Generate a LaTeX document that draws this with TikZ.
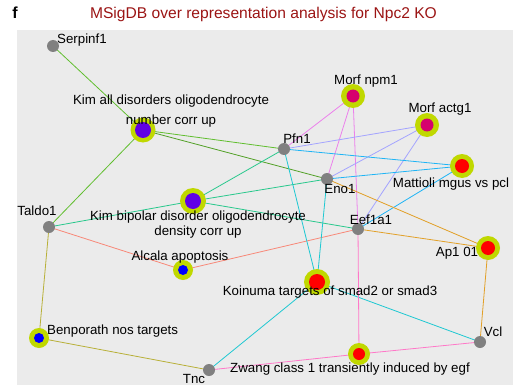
\documentclass[tikz,border=0pt]{standalone}
\usepackage{fontspec}
\setmainfont{Liberation Sans}
\begin{document}
\begin{tikzpicture}[x=1pt,y=-1pt,
  gene/.style={circle,fill={rgb,255:red,128;green,128;blue,128},inner sep=0pt,minimum size=12pt},
  ring/.style={circle,fill=ringc,inner sep=0pt,minimum size=#1},
  core/.style={circle,inner sep=0pt,minimum size=#1},
  lbl/.style={font=\fontsize{13.3}{15}\selectfont,inner sep=0pt,text=black},
  edge/.style={line width=0.8pt}]
\definecolor{ringc}{RGB}{192,216,0}
\definecolor{bgc}{RGB}{235,235,235}
\definecolor{purp}{RGB}{96,0,230}
\definecolor{mag}{RGB}{214,0,110}
\definecolor{cgreen}{RGB}{96,190,46}
\definecolor{cviolet}{RGB}{236,128,236}
\definecolor{clav}{RGB}{164,164,255}
\definecolor{csky}{RGB}{30,180,245}
\definecolor{cteal}{RGB}{40,200,140}
\definecolor{corange}{RGB}{226,160,40}
\definecolor{csalmon}{RGB}{248,136,120}
\definecolor{cturq}{RGB}{30,200,210}
\definecolor{colive}{RGB}{184,176,56}
\definecolor{cpink}{RGB}{255,120,200}
\definecolor{titlec}{RGB}{155,20,20}
\useasboundingbox (0,0) rectangle (513,385);
\fill[bgc] (17,30) rectangle (513,385);
\node[font=\bfseries\fontsize{16}{18}\selectfont,inner sep=0pt] (flab) at (15,13) {f};
\node[font=\fontsize{15.6}{18}\selectfont,text=titlec,inner sep=0pt] (title) at (263.5,14) {MSigDB over representation analysis for Npc2 KO};
% coordinates of nodes
\coordinate (serp) at (53,46);
\coordinate (kimall) at (143,130);
\coordinate (npm) at (353,96);
\coordinate (actg) at (427,125);
\coordinate (pfn) at (284,149);
\coordinate (matt) at (462,166);
\coordinate (eno) at (327,179);
\coordinate (kimbi) at (193,201);
\coordinate (taldo) at (49,227);
\coordinate (eef) at (358,229);
\coordinate (ap) at (488,248);
\coordinate (alc) at (183,270);
\coordinate (koi) at (317,282);
\coordinate (benp) at (39,338);
\coordinate (vcl) at (480,342);
\coordinate (zw) at (359,354);
\coordinate (tnc) at (209,370);
% edges
\draw[edge,cgreen] (serp) -- (kimall);
\draw[edge,cgreen] (kimall) -- (pfn);
\draw[edge,cgreen!85!black] (kimall) -- (eno);
\draw[edge,cgreen] (kimall) -- (taldo);
\draw[edge,cviolet] (npm) -- (pfn);
\draw[edge,cviolet] (npm) -- (eno);
\draw[edge,cviolet] (npm) -- (eef);
\draw[edge,clav] (actg) -- (pfn);
\draw[edge,clav] (actg) -- (eno);
\draw[edge,clav] (actg) -- (eef);
\draw[edge,csky] (matt) -- (pfn);
\draw[edge,csky] (matt) -- (eno);
\draw[edge,csky] (matt) -- (eef);
\draw[edge,cteal] (kimbi) -- (pfn);
\draw[edge,cteal] (kimbi) -- (eno);
\draw[edge,cteal] (kimbi) -- (taldo);
\draw[edge,cteal] (kimbi) -- (eef);
\draw[edge,corange] (ap) -- (eno);
\draw[edge,corange] (ap) -- (eef);
\draw[edge,corange] (ap) -- (vcl);
\draw[edge,csalmon] (alc) -- (taldo);
\draw[edge,csalmon] (alc) -- (eef);
\draw[edge,cturq] (koi) -- (pfn);
\draw[edge,cturq] (koi) -- (eno);
\draw[edge,cturq] (koi) -- (vcl);
\draw[edge,cturq] (koi) -- (tnc);
\draw[edge,colive] (benp) -- (taldo);
\draw[edge,colive] (benp) -- (tnc);
\draw[edge,cpink] (zw) -- (tnc);
\draw[edge,cpink] (zw) -- (vcl);
\draw[edge,cpink] (zw) -- (eef);
% gene nodes
\foreach \g in {serp,pfn,eno,taldo,eef,vcl,tnc}
  \node[gene] (\g n) at (\g) {};
% set nodes
\node[ring=25pt] (kimallr) at (kimall) {};
\node[core=16pt,fill=purp] (kimallc) at (kimall) {};
\node[ring=26pt] (kimbir) at (kimbi) {};
\node[core=16pt,fill=purp] (kimbic) at (kimbi) {};
\node[ring=24pt] (npmr) at (npm) {};
\node[core=13pt,fill=mag] (npmc) at (npm) {};
\node[ring=24pt] (actgr) at (actg) {};
\node[core=13pt,fill=mag] (actgc) at (actg) {};
\node[ring=24pt] (mattr) at (matt) {};
\node[core=14pt,fill=red] (mattc) at (matt) {};
\node[ring=24pt] (apr) at (ap) {};
\node[core=14pt,fill=red] (apc) at (ap) {};
\node[ring=26pt] (koir) at (koi) {};
\node[core=16pt,fill=red] (koic) at (koi) {};
\node[ring=22pt] (zwr) at (zw) {};
\node[core=12pt,fill=red] (zwc) at (zw) {};
\node[ring=20pt] (alcr) at (alc) {};
\node[core=10pt,fill=blue] (alcc) at (alc) {};
\node[ring=20pt] (benpr) at (benp) {};
\node[core=10pt,fill=blue] (benpc) at (benp) {};
% labels
\node[lbl,anchor=west] (l1) at (57,40) {Serpinf1};
\node[lbl] (l2a) at (171,101) {Kim all disorders oligodendrocyte};
\node[lbl] (l2b) at (171,121) {number corr up};
\node[lbl] (l3) at (366,81) {Morf npm1};
\node[lbl] (l4) at (440,109) {Morf actg1};
\node[lbl] (l5) at (297,139) {Pfn1};
\node[lbl] (l6) at (340,189) {Eno1};
\node[lbl] (l7) at (451,184) {Mattioli mgus vs pcl};
\node[lbl] (l8a) at (198,217) {Kim bipolar disorder oligodendrocyte};
\node[lbl] (l8b) at (198,232) {density corr up};
\node[lbl] (l9) at (37,211) {Taldo1};
\node[lbl] (l10) at (371,220) {Eef1a1};
\node[lbl] (l11) at (457,253) {Ap1 01};
\node[lbl] (l12) at (180,257) {Alcala apoptosis};
\node[lbl] (l13) at (330,292) {Koinuma targets of smad2 or smad3};
\node[lbl,anchor=west] (l14) at (47,331) {Benporath nos targets};
\node[lbl] (l15) at (493,332) {Vcl};
\node[lbl] (l16) at (350,369) {Zwang class 1 transiently induced by egf};
\node[lbl] (l17) at (194,379) {Tnc};
\end{tikzpicture}
\end{document}
